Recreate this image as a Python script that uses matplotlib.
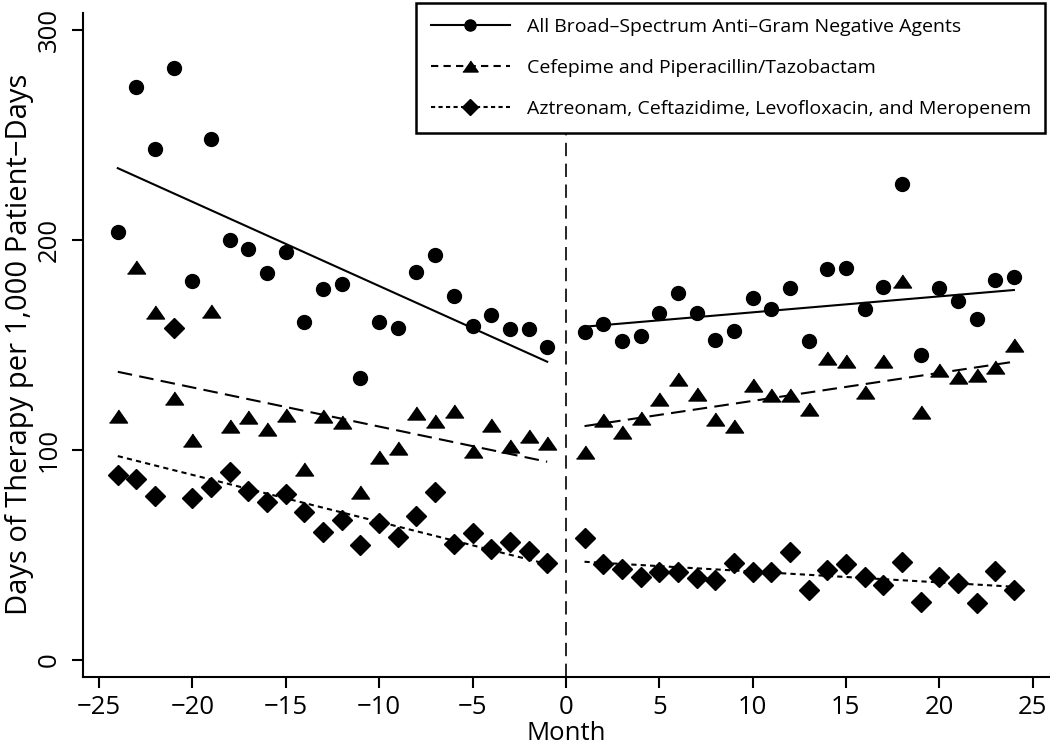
import matplotlib
matplotlib.use("Agg")
import matplotlib.pyplot as plt
from matplotlib.lines import Line2D

# months before / after the intervention
pre_months = list(range(-24, 0))
post_months = list(range(1, 25))

# All broad-spectrum anti-gram negative agents
all_pre = [204.0, 273.0, 243.4, 282.1, 180.5, 248.2, 200.2, 195.6, 184.2, 194.5, 160.8, 176.7,
           179.2, 134.1, 161.1, 158.2, 184.9, 192.9, 173.5, 159.2, 164.1, 157.6, 157.7, 148.9]
all_post = [156.3, 160.0, 151.9, 154.4, 165.4, 174.6, 165.4, 152.4, 156.6, 172.5, 167.1, 177.3,
            151.9, 186.2, 186.7, 167.0, 177.5, 226.7, 145.4, 177.3, 171.0, 162.2, 181.0, 182.5]

# Cefepime and piperacillin/tazobactam
cef_pre = [116.0, 187.3, 165.9, 124.6, 104.7, 166.2, 111.5, 115.5, 109.8, 116.6, 90.7, 116.1,
           113.4, 80.0, 96.4, 100.7, 117.4, 113.9, 118.7, 99.6, 111.8, 101.8, 106.6, 103.4]
cef_post = [98.8, 114.2, 108.6, 115.3, 124.1, 133.6, 126.6, 114.5, 111.3, 130.9, 126.1, 126.1,
            119.3, 143.9, 142.2, 127.7, 142.5, 180.5, 117.9, 138.1, 134.9, 135.7, 139.3, 150.0]

# Aztreonam, ceftazidime, levofloxacin, meropenem
azt_pre = [88.0, 85.9, 78.0, 157.9, 76.9, 82.4, 89.6, 80.5, 75.0, 78.9, 70.5, 61.0,
           66.5, 54.6, 65.2, 58.3, 68.6, 79.7, 55.1, 60.5, 52.5, 56.2, 51.9, 45.9]
azt_post = [58.1, 45.5, 43.2, 39.5, 41.6, 41.6, 38.7, 37.9, 45.9, 41.9, 41.6, 51.4,
            33.1, 42.7, 45.4, 39.5, 35.5, 46.6, 27.6, 39.5, 36.6, 27.1, 42.3, 33.1]

# fitted segment end points
fit_pre_x = [-24, -1]
fit_post_x = [1, 24]
all_fit_pre = [234.3, 142.0]
all_fit_post = [158.7, 176.2]
cef_fit_pre = [137.2, 94.3]
cef_fit_post = [111.3, 142.0]
azt_fit_pre = [97.0, 45.5]
azt_fit_post = [46.6, 34.7]

labels = ["All Broad\u2013Spectrum Anti\u2013Gram Negative Agents",
          "Cefepime and Piperacillin/Tazobactam",
          "Aztreonam, Ceftazidime, Levofloxacin, and Meropenem"]

plt.rcParams['font.family'] = ['Open Sans', 'DejaVu Sans']

W, H = 1050, 745
fig = plt.figure(figsize=(W / 100, H / 100), dpi=100)
ax = fig.add_axes([82.7 / W, (H - 676.7) / H, (1049 - 82.7) / W, (676.7 - 13) / H])

tri = [(-1, -0.72), (1, -0.72), (0, 0.72)]
lw = 1.5
col = '#000000'

# pre / post points
for xs, ys in ((pre_months, all_pre), (post_months, all_post)):
    ax.plot(xs, ys, 'o', color=col, markersize=10, zorder=3)
for xs, ys in ((pre_months, cef_pre), (post_months, cef_post)):
    ax.plot(xs, ys, linestyle='none', marker=tri, color=col, markersize=13, zorder=3)
for xs, ys in ((pre_months, azt_pre), (post_months, azt_post)):
    ax.plot(xs, ys, 'D', color=col, markersize=9.8, zorder=3)

# fitted lines
ax.plot(fit_pre_x, all_fit_pre, '-', color=col, lw=lw)
ax.plot(fit_post_x, all_fit_post, '-', color=col, lw=lw)
ax.plot(fit_pre_x, cef_fit_pre, color=col, lw=lw, dashes=(7, 3.5))
ax.plot(fit_post_x, cef_fit_post, color=col, lw=lw, dashes=(7, 3.5))
ax.plot(fit_pre_x, azt_fit_pre, color=col, lw=lw, dashes=(2.5, 2))
ax.plot(fit_post_x, azt_fit_post, color=col, lw=lw, dashes=(2.5, 2))

ax.axvline(0, color=col, lw=1.2, dashes=(8, 4.5), zorder=1)

ax.set_xlim(-25.88, 25.88)
ax.set_ylim(-8.2, 308.3)
ax.set_xticks([-25, -20, -15, -10, -5, 0, 5, 10, 15, 20, 25])
ax.set_xticklabels([str(v).replace('-', '\u2212') for v in ax.get_xticks().astype(int)])
ax.set_yticks([0, 100, 200, 300])
ax.tick_params(axis='both', length=8, width=1.5, labelsize=18.5, color=col)
ax.tick_params(axis='x', pad=5)
ax.tick_params(axis='y', pad=7)
for t in ax.get_yticklabels():
    t.set_rotation(90)
    t.set_va('center')

for s in ('top', 'right'):
    ax.spines[s].set_visible(False)
for s in ('left', 'bottom'):
    ax.spines[s].set_linewidth(1.5)

ax.set_xlabel('Month', fontsize=18.5, labelpad=1)
ax.set_ylabel('Days of Therapy per 1,000 Patient\u2212Days', fontsize=21, labelpad=2)

handles = [
    Line2D([], [], color=col, lw=lw, marker='o', markersize=8),
    Line2D([], [], color=col, lw=lw, dashes=(3.5, 2.5), marker=tri, markersize=11),
    Line2D([], [], color=col, lw=lw, dashes=(2, 1.6), marker='D', markersize=8),
]
leg = ax.legend(handles, labels, loc='upper left',
                bbox_to_anchor=(416 / W, 1 - 3 / H, (1045 - 416) / W, 0.0),
                bbox_transform=fig.transFigure, mode='expand',
                fontsize=14, frameon=True, fancybox=False, framealpha=1,
                edgecolor=col, borderpad=0.77, labelspacing=1.19,
                handlelength=4.06, handletextpad=0.87, borderaxespad=0,
                numpoints=1)
leg.get_frame().set_linewidth(1.8)
leg.set_zorder(5)

fig.savefig('out.png', dpi=100)
